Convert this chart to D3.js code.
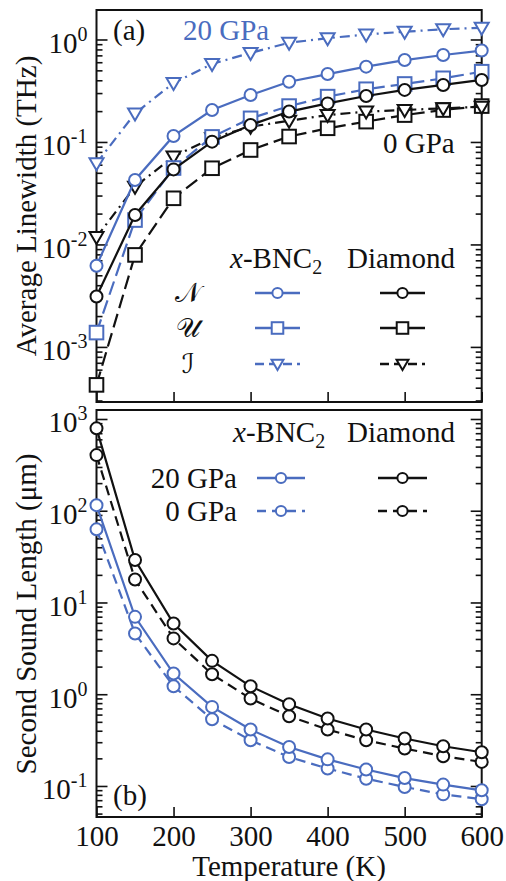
<!DOCTYPE html>
<html>
<head>
<meta charset="utf-8">
<script src="https://cdn.jsdelivr.net/npm/d3@7"></script>
<style>
  body { margin: 0; background: #fff; }
  text { font-family: "Liberation Serif", "Times New Roman", serif; }
</style>
</head>
<body>
<div id="chart"></div>
<script>
const temps = [100, 150, 200, 250, 300, 350, 400, 450, 500, 550, 600];

// (a) average linewidth, THz
const bncN = [0.0062, 0.0426, 0.1145, 0.205, 0.287, 0.387, 0.46, 0.543, 0.63, 0.706, 0.78];
const bncU = [0.00138, 0.0173, 0.0557, 0.112, 0.17, 0.224, 0.277, 0.327, 0.368, 0.418, 0.485];
const bncI = [0.062, 0.19, 0.376, 0.577, 0.74, 0.93, 1.03, 1.12, 1.19, 1.26, 1.30];
const diaN = [0.0031, 0.0194, 0.054, 0.1007, 0.1465, 0.198, 0.238, 0.281, 0.322, 0.36, 0.403];
const diaU = [0.000426, 0.0079, 0.0282, 0.0554, 0.0835, 0.113, 0.136, 0.158, 0.183, 0.205, 0.224];
const diaI = [0.0118, 0.0366, 0.072, 0.109, 0.141, 0.161, 0.183, 0.198, 0.205, 0.213, 0.221];

// (b) second sound length, um
const bnc20 = [115, 6.97, 1.68, 0.728, 0.412, 0.266, 0.195, 0.151, 0.122, 0.1035, 0.0897];
const bnc0 = [62.7, 4.59, 1.22, 0.533, 0.315, 0.207, 0.155, 0.12, 0.0975, 0.081, 0.0716];
const dia20 = [791, 29, 5.9, 2.31, 1.22, 0.778, 0.543, 0.412, 0.329, 0.271, 0.233];
const dia0 = [404, 17.8, 4.06, 1.65, 0.897, 0.575, 0.412, 0.315, 0.256, 0.211, 0.183];

const xTicks = [100, 200, 300, 400, 500, 600];
const yTicksA = [1e-3, 1e-2, 1e-1, 1];
const yTicksB = [1e-1, 1, 10, 100, 1000];

const blue = "#4a6cbf";
const black = "#111";
const solid = null, dashed = "14,6", dashDot = "10,5,2,5", shortDash = "10,6";

const width = 506, height = 881;
const svg = d3.select("#chart").append("svg")
  .attr("width", width)
  .attr("height", height)
  .style("background", "white");

const x = d3.scaleLinear().domain([100, 600]).range([96.5, 481.7]);
const yA = d3.scaleLog().domain([2.9e-4, 1.94]).range([402, 10]);
const yB = d3.scaleLog().domain([0.0459, 1253]).range([817, 410]);

function minorTicks(scale) {
  const [a, b] = scale.domain();
  const out = [];
  for (let e = Math.floor(Math.log10(a)); e <= Math.ceil(Math.log10(b)); e++) {
    for (let m = 2; m <= 9; m++) {
      const v = m * Math.pow(10, e);
      if (v >= a && v <= b) out.push(v);
    }
  }
  return out;
}

function drawMarker(g, shape, cx, cy, color, s) {
  if (shape === "circle") {
    g.append("circle").attr("cx", cx).attr("cy", cy).attr("r", 6 * s)
      .attr("fill", "white").attr("stroke", color).attr("stroke-width", 2);
  } else if (shape === "square") {
    const h = 6.8 * s;
    g.append("rect").attr("x", cx - h).attr("y", cy - h).attr("width", 2 * h).attr("height", 2 * h)
      .attr("fill", "white").attr("stroke", color).attr("stroke-width", 2);
  } else {
    const w = 7 * s;
    g.append("path")
      .attr("d", `M${cx - w},${cy - 5 * s}L${cx + w},${cy - 5 * s}L${cx},${cy + 7 * s}Z`)
      .attr("fill", "white").attr("stroke", color).attr("stroke-width", 2);
  }
}

function drawPanel(y, majors, top, bottom, labels) {
  const g = svg.append("g");

  // ticks pointing inward
  g.append("g").attr("transform", `translate(0,${bottom})`)
    .call(d3.axisBottom(x).tickValues(xTicks).tickSize(-10).tickSizeOuter(0).tickPadding(8)
      .tickFormat(labels ? d3.format("d") : ""))
    .call(a => a.select(".domain").remove())
    .call(a => a.selectAll("text").attr("font-size", "29px").attr("fill", "#111")
      .style("font-family", '"Liberation Serif", serif'));

  [[d3.axisLeft, x.range()[0], true], [d3.axisRight, x.range()[1], false]].forEach(([ax, pos, lab]) => {
    g.append("g").attr("transform", `translate(${pos},0)`)
      .call(ax(y).tickValues(minorTicks(y)).tickSize(-6).tickSizeOuter(0).tickFormat(""))
      .call(a => a.select(".domain").remove());
    const major = g.append("g").attr("transform", `translate(${pos},0)`)
      .call(ax(y).tickValues(majors).tickSize(-11).tickSizeOuter(0).tickPadding(9).tickFormat(""))
      .call(a => a.select(".domain").remove());
    if (lab) {
      major.selectAll(".tick text").each(function(d) {
        const t = d3.select(this)
          .attr("dy", "13px")
          .attr("text-anchor", "end")
          .attr("font-size", "29px")
          .attr("fill", "#111")
          .style("font-family", '"Liberation Serif", serif');
        t.text("10");
        t.append("tspan").attr("dy", "-12px").attr("font-size", "20px")
          .text(String(Math.round(Math.log10(d))));
      });
    }
  });
  g.selectAll(".tick line").attr("stroke", "#111").attr("stroke-width", 1.6);

  g.append("rect")
    .attr("x", x.range()[0]).attr("y", top)
    .attr("width", x.range()[1] - x.range()[0]).attr("height", bottom - top)
    .attr("fill", "none").attr("stroke", "#111").attr("stroke-width", 2);
  return g;
}

function drawSeries(y, list) {
  const line = d3.line().x(d => x(d[0])).y(d => y(d[1]));
  list.forEach(s => {
    const pts = temps.map((t, i) => [t, s.values[i]]);
    svg.append("path").datum(pts)
      .attr("d", line)
      .attr("fill", "none")
      .attr("stroke", s.color)
      .attr("stroke-width", 2.2)
      .attr("stroke-dasharray", s.dash);
    const mg = svg.append("g");
    pts.forEach(p => drawMarker(mg, s.shape, x(p[0]), y(p[1]), s.color, 1));
  });
}

function legendEntry(x1, x2, cy, color, dash, shape, s) {
  svg.append("line").attr("x1", x1).attr("x2", x2).attr("y1", cy).attr("y2", cy)
    .attr("stroke", color).attr("stroke-width", 2.4).attr("stroke-dasharray", dash);
  drawMarker(svg.append("g"), shape, (x1 + x2) / 2, cy, color, s);
}

function bncLabel(x0, y0) {
  const t = svg.append("text").attr("x", x0).attr("y", y0).attr("font-size", "29px").attr("fill", "#111");
  t.append("tspan").attr("font-style", "italic").text("x");
  t.append("tspan").text("-BNC");
  t.append("tspan").attr("font-size", "20px").attr("dy", "6px").text("2");
  svg.append("text").attr("x", 347).attr("y", y0).attr("font-size", "29px").attr("fill", "#111").text("Diamond");
}

// ---------- panel (a)
drawPanel(yA, yTicksA, 10, 402, false);
drawSeries(yA, [
  { values: diaU, color: black, dash: dashed, shape: "square" },
  { values: diaI, color: black, dash: dashDot, shape: "triangle" },
  { values: bncU, color: blue, dash: dashed, shape: "square" },
  { values: bncN, color: blue, dash: solid, shape: "circle" },
  { values: bncI, color: blue, dash: dashDot, shape: "triangle" },
  { values: diaN, color: black, dash: solid, shape: "circle" }
]);

svg.append("text").attr("x", 113).attr("y", 40).attr("font-size", "29px").attr("fill", "#111").text("(a)");
svg.append("text").attr("x", 183).attr("y", 40).attr("font-size", "29px").attr("fill", blue).text("20 GPa");
svg.append("text").attr("x", 383).attr("y", 153).attr("font-size", "29px").attr("fill", "#111").text("0 GPa");

bncLabel(230, 268);
const rowsA = [
  { sym: "\u{1D4A9}", cy: 293, dash: solid, shape: "circle" },
  { sym: "\u{1D4B0}", cy: 328, dash: solid, shape: "square" },
  { sym: "\u2110", cy: 364, dash: "9,5", shape: "triangle" }
];
rowsA.forEach(r => {
  svg.append("text").attr("x", 188).attr("y", r.cy + 9).attr("text-anchor", "middle")
    .attr("font-size", "27px").attr("fill", "#111")
    .style("font-family", '"DejaVu Sans", "DejaVu Serif", serif').text(r.sym);
  legendEntry(255, 300, r.cy, blue, r.dash, r.shape, 0.85);
  legendEntry(380, 425, r.cy, black, r.dash, r.shape, 0.85);
});

svg.append("text")
  .attr("transform", "translate(36,206) rotate(-90)")
  .attr("text-anchor", "middle").attr("font-size", "29px").attr("fill", "#111")
  .text("Average Linewidth (THz)");

// ---------- panel (b)
drawPanel(yB, yTicksB, 410, 817, true);
drawSeries(yB, [
  { values: bnc0, color: blue, dash: shortDash, shape: "circle" },
  { values: bnc20, color: blue, dash: solid, shape: "circle" },
  { values: dia0, color: black, dash: shortDash, shape: "circle" },
  { values: dia20, color: black, dash: solid, shape: "circle" }
]);

svg.append("text").attr("x", 113).attr("y", 805).attr("font-size", "29px").attr("fill", "#111").text("(b)");

bncLabel(233, 442);
const rowsB = [
  { label: "20 GPa", cy: 478, dash: solid },
  { label: "0 GPa", cy: 511, dash: "9,6" }
];
rowsB.forEach(r => {
  svg.append("text").attr("x", 237).attr("y", r.cy + 10).attr("text-anchor", "end")
    .attr("font-size", "29px").attr("fill", "#111").text(r.label);
  legendEntry(257, 305, r.cy, blue, r.dash, "circle", 0.85);
  legendEntry(378, 427, r.cy, black, r.dash, "circle", 0.85);
});

svg.append("text")
  .attr("transform", "translate(36,614) rotate(-90)")
  .attr("text-anchor", "middle").attr("font-size", "29px").attr("fill", "#111")
  .text("Second Sound Length (\u03BCm)");

svg.append("text")
  .attr("x", 289).attr("y", 876).attr("text-anchor", "middle")
  .attr("font-size", "29px").attr("fill", "#111")
  .text("Temperature (K)");
</script>
</body>
</html>
